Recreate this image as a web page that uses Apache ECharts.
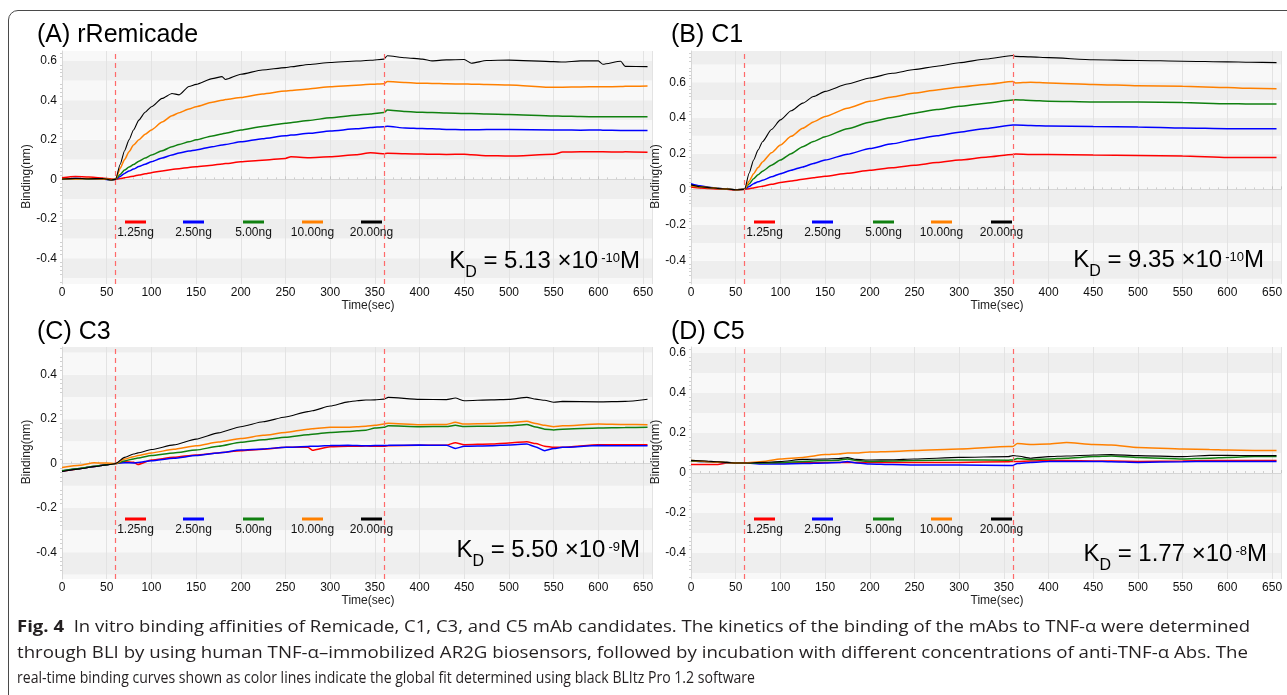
<!DOCTYPE html>
<html>
<head>
<meta charset="utf-8">
<title>BLI binding curves</title>
<script src="https://cdn.jsdelivr.net/npm/echarts@6/dist/echarts.min.js"></script>
<style>
  html, body { margin: 0; padding: 0; background: #fff; }
  #frame { position: absolute; left: 8px; top: 10px; width: 1300px; height: 700px;
           border: 1.5px solid #4a4a4a; border-radius: 10px; box-sizing: border-box; }
  #main { position: absolute; left: 0; top: 0; width: 1287px; height: 695px; }
  .kd { position: absolute; font-family: "Liberation Sans", Arial, sans-serif; font-size: 24px;
        line-height: 30px; color: #000; white-space: nowrap; }
  .kd sub { font-size: 16px; vertical-align: -9px; line-height: 0; }
  .kd sup { font-size: 13px; vertical-align: 6px; line-height: 0; margin-left: 3px; }
  #caption { position: absolute; left: 17px; top: 613px; color: #231f20;
             font-family: "Open Sans", "Noto Sans", sans-serif; font-size: 16.5px; line-height: 25.5px; }
  #caption .cl { white-space: nowrap; transform-origin: 0 50%; }
  #caption span { display: inline-block; white-space: nowrap; }
</style>
</head>
<body>
<div id="frame"></div>
<div id="main"></div>
<div id="kdbox"></div>
<div id="caption">
  <div class="cl"><span><b>Fig. 4</b>&nbsp; In vitro binding affinities of Remicade, C1, C3, and C5 mAb candidates. The kinetics of the binding of the mAbs to TNF-α were determined</span></div>
  <div class="cl"><span>through BLI by using human TNF-α–immobilized AR2G biosensors, followed by incubation with different concentrations of anti-TNF-α Abs. The</span></div>
  <div class="cl"><span>real-time binding curves shown as color lines indicate the global fit determined using black BLItz Pro 1.2 software</span></div>
</div>
<script>
// concentrations (legend), same for every panel
var concLabels = ['1.25ng', '2.50ng', '5.00ng', '10.00ng', '20.00ng'];
var panelTitles = ['(A) rRemicade', '(B) C1', '(C) C3', '(D) C5'];
var kdMantissa = ['5.13', '9.35', '5.50', '1.77'];
var kdExponent = ['-10', '-10', '-9', '-8'];
var phaseMarks = [60, 360]; // association start / dissociation start (sec)

// (A) rRemicade
var timeA = [0, 15, 30, 45, 55, 60, 65, 70, 75, 80, 86, 93, 100, 112, 123, 131, 142, 150, 168, 179,
  183, 200, 224, 250, 256, 276, 300, 329, 345, 360, 364, 384, 403, 414, 430, 450, 458, 475, 500, 550,
  560, 580, 600, 605, 625, 630, 655];
var aRed = [0.008, 0.014, 0.012, 0.007, 0.002, 0, 0.004, 0.008, 0.012, 0.016, 0.022, 0.028, 0.034, 0.042, 0.05,
  0.054, 0.06, 0.064, 0.072, 0.078, 0.08, 0.089, 0.097, 0.106, 0.115, 0.11, 0.115, 0.125, 0.135, 0.13,
  0.132, 0.13, 0.128, 0.127, 0.126, 0.127, 0.125, 0.12, 0.118, 0.127, 0.138, 0.14, 0.14, 0.14, 0.138, 0.14, 0.137];
var aBlue = [0.0, 0.004, 0.002, 0.002, -0.003, 0, 0.015, 0.03, 0.042, 0.052, 0.065, 0.077, 0.089, 0.108, 0.123,
  0.133, 0.143, 0.149, 0.165, 0.174, 0.177, 0.19, 0.206, 0.221, 0.224, 0.233, 0.245, 0.256, 0.262, 0.267,
  0.269, 0.26, 0.257, 0.256, 0.253, 0.251, 0.251, 0.252, 0.253, 0.25, 0.25, 0.249, 0.25, 0.249, 0.248, 0.248, 0.248];
var aGreen = [0.002, 0.003, 0.002, 0.003, -0.002, 0, 0.025, 0.047, 0.062, 0.075, 0.092, 0.108, 0.123, 0.145, 0.165,
  0.177, 0.19, 0.2, 0.22, 0.23, 0.234, 0.25, 0.268, 0.284, 0.287, 0.298, 0.312, 0.325, 0.331, 0.338,
  0.351, 0.343, 0.34, 0.338, 0.336, 0.334, 0.333, 0.331, 0.329, 0.321, 0.32, 0.318, 0.317, 0.317, 0.317, 0.317, 0.317];
var aOrange = [0.003, 0.002, 0.004, 0.002, -0.002, 0, 0.055, 0.1, 0.14, 0.174, 0.2, 0.228, 0.25, 0.29, 0.322,
  0.337, 0.356, 0.368, 0.39, 0.4, 0.404, 0.414, 0.432, 0.447, 0.45, 0.458, 0.469, 0.477, 0.481, 0.484,
  0.495, 0.49, 0.487, 0.486, 0.484, 0.483, 0.482, 0.48, 0.478, 0.466, 0.467, 0.468, 0.469, 0.469, 0.47, 0.471, 0.473];
var aBlack = [0.002, 0.005, 0.003, 0.004, -0.003, 0, 0.075, 0.145, 0.2, 0.25, 0.3, 0.34, 0.368, 0.41, 0.435,
  0.428, 0.47, 0.481, 0.51, 0.52, 0.506, 0.532, 0.554, 0.566, 0.57, 0.582, 0.592, 0.599, 0.603, 0.609,
  0.626, 0.616, 0.609, 0.6, 0.605, 0.607, 0.588, 0.602, 0.604, 0.596, 0.594, 0.6, 0.6, 0.583, 0.598, 0.572, 0.571];

// (B) C1
var timeB = [0, 10, 20, 30, 40, 50, 60, 65, 70, 75, 80, 90, 100, 112, 125, 137, 150, 175, 200, 225,
  250, 275, 300, 330, 360, 363, 380, 400, 450, 500, 550, 600, 625, 655];
var bRed = [0.013, 0.008, 0.005, 0.002, 0.0, -0.003, 0, 0.004, 0.008, 0.013, 0.018, 0.028, 0.038, 0.047, 0.056,
  0.065, 0.073, 0.09, 0.107, 0.121, 0.135, 0.15, 0.164, 0.18, 0.196, 0.198, 0.196, 0.195, 0.192, 0.19,
  0.187, 0.178, 0.178, 0.178];
var bBlue = [0.032, 0.02, 0.012, 0.006, 0.002, -0.002, 0, 0.016, 0.032, 0.042, 0.051, 0.07, 0.088, 0.107, 0.126,
  0.145, 0.164, 0.197, 0.229, 0.255, 0.28, 0.3, 0.32, 0.341, 0.361, 0.36, 0.358, 0.355, 0.352, 0.35,
  0.344, 0.34, 0.34, 0.34];
var bGreen = [0.02, 0.014, 0.01, 0.005, 0.002, -0.002, 0, 0.03, 0.06, 0.082, 0.102, 0.135, 0.164, 0.2, 0.239,
  0.268, 0.295, 0.34, 0.376, 0.403, 0.427, 0.447, 0.465, 0.483, 0.5, 0.502, 0.498, 0.494, 0.489, 0.489,
  0.486, 0.48, 0.478, 0.478];
var bOrange = [0.02, 0.014, 0.01, 0.005, 0.002, -0.002, 0, 0.045, 0.088, 0.122, 0.154, 0.205, 0.248, 0.297, 0.342,
  0.378, 0.408, 0.455, 0.493, 0.518, 0.54, 0.557, 0.572, 0.588, 0.604, 0.596, 0.6, 0.596, 0.588, 0.58,
  0.577, 0.57, 0.566, 0.564];
var bBlack = [0.025, 0.015, 0.01, 0.005, 0.002, -0.002, 0, 0.09, 0.164, 0.22, 0.267, 0.335, 0.389, 0.44, 0.483,
  0.52, 0.549, 0.59, 0.624, 0.65, 0.671, 0.69, 0.709, 0.73, 0.75, 0.745, 0.742, 0.738, 0.726, 0.722,
  0.718, 0.714, 0.712, 0.71];

// (C) C3
var timeC = [0, 20, 36, 50, 60, 70, 80, 85, 100, 125, 150, 175, 200, 225, 250, 275, 280, 300, 320, 330,
  340, 350, 360, 365, 400, 430, 440, 450, 480, 500, 520, 530, 540, 550, 560, 600, 630, 655];
var cRed = [-0.035, -0.023, -0.013, -0.005, 0, 0.008, 0.006, -0.004, 0.016, 0.028, 0.039, 0.048, 0.058, 0.064, 0.073,
  0.074, 0.06, 0.076, 0.078, 0.078, 0.079, 0.078, 0.078, 0.08, 0.082, 0.083, 0.094, 0.085, 0.088, 0.093,
  0.098, 0.09, 0.078, 0.073, 0.074, 0.085, 0.085, 0.085];
var cBlue = [-0.034, -0.022, -0.013, -0.005, 0, 0.004, 0.003, 0.005, 0.013, 0.024, 0.036, 0.048, 0.061, 0.066, 0.073,
  0.077, 0.078, 0.081, 0.082, 0.081, 0.08, 0.081, 0.081, 0.082, 0.084, 0.082, 0.068, 0.078, 0.08, 0.084,
  0.088, 0.075, 0.058, 0.068, 0.073, 0.081, 0.08, 0.08];
var cGreen = [-0.032, -0.022, -0.012, -0.005, 0, 0.012, 0.021, 0.025, 0.036, 0.048, 0.061, 0.078, 0.096, 0.107, 0.118,
  0.13, 0.132, 0.14, 0.144, 0.148, 0.15, 0.16, 0.163, 0.17, 0.166, 0.167, 0.172, 0.167, 0.168, 0.17,
  0.176, 0.165, 0.155, 0.151, 0.155, 0.16, 0.162, 0.163];
var cOrange = [-0.018, -0.008, 0.004, 0.002, 0, 0.02, 0.031, 0.036, 0.048, 0.064, 0.08, 0.097, 0.113, 0.127, 0.14,
  0.155, 0.157, 0.163, 0.163, 0.166, 0.168, 0.172, 0.178, 0.182, 0.175, 0.176, 0.186, 0.178, 0.18, 0.185,
  0.19, 0.18, 0.172, 0.166, 0.17, 0.178, 0.176, 0.175];
var cBlack = [-0.036, -0.024, -0.014, -0.006, 0, 0.028, 0.043, 0.048, 0.063, 0.084, 0.11, 0.138, 0.166, 0.188, 0.21,
  0.234, 0.238, 0.259, 0.278, 0.283, 0.286, 0.287, 0.29, 0.298, 0.289, 0.288, 0.295, 0.283, 0.287, 0.289,
  0.298, 0.29, 0.285, 0.276, 0.28, 0.278, 0.28, 0.29];

// (D) C5
var timeD = [0, 15, 30, 40, 50, 60, 80, 100, 125, 150, 165, 175, 185, 200, 225, 250, 300, 355, 360, 365,
  380, 400, 420, 450, 470, 500, 550, 580, 600, 630, 655];
var dRed = [0.042, 0.042, 0.042, 0.05, 0.05, 0.05, 0.05, 0.05, 0.051, 0.052, 0.052, 0.053, 0.053, 0.053, 0.053,
  0.053, 0.053, 0.056, 0.058, 0.058, 0.06, 0.062, 0.062, 0.06, 0.06, 0.058, 0.06, 0.062, 0.062, 0.062, 0.062];
var dBlue = [0.06, 0.057, 0.054, 0.052, 0.05, 0.05, 0.045, 0.045, 0.047, 0.05, 0.052, 0.058, 0.05, 0.045, 0.042,
  0.04, 0.04, 0.037, 0.038, 0.048, 0.053, 0.057, 0.058, 0.058, 0.056, 0.053, 0.056, 0.058, 0.058, 0.057, 0.057];
var dGreen = [0.06, 0.058, 0.055, 0.052, 0.05, 0.05, 0.05, 0.053, 0.058, 0.062, 0.064, 0.07, 0.062, 0.058, 0.06,
  0.062, 0.065, 0.064, 0.065, 0.072, 0.068, 0.07, 0.074, 0.082, 0.085, 0.078, 0.07, 0.074, 0.078, 0.082, 0.083];
var dOrange = [0.062, 0.058, 0.055, 0.052, 0.05, 0.05, 0.058, 0.07, 0.078, 0.092, 0.095, 0.1, 0.1, 0.105, 0.108,
  0.112, 0.12, 0.132, 0.133, 0.147, 0.143, 0.145, 0.152, 0.142, 0.14, 0.128, 0.12, 0.118, 0.115, 0.113, 0.112];
var dBlack = [0.063, 0.06, 0.056, 0.053, 0.05, 0.05, 0.053, 0.057, 0.068, 0.07, 0.072, 0.077, 0.068, 0.065, 0.066,
  0.07, 0.078, 0.082, 0.087, 0.085, 0.074, 0.082, 0.085, 0.09, 0.092, 0.087, 0.082, 0.088, 0.088, 0.087, 0.087];

// y extents of each panel (nm)
var yMins = [-0.53, -0.53, -0.52, -0.53];
var yMaxs = [0.65, 0.775, 0.525, 0.63];

var panelTimes = [timeA, timeB, timeC, timeD];
var panelValues = [
  [aRed, aBlue, aGreen, aOrange, aBlack],
  [bRed, bBlue, bGreen, bOrange, bBlack],
  [cRed, cBlue, cGreen, cOrange, cBlack],
  [dRed, dBlue, dGreen, dOrange, dBlack]
];

// ---- layout / style ----
var colors = ['#ff0000', '#0000ff', '#108010', '#ff8000', '#000000'];
var grids = [
  {left: 62, top: 51, width: 590, height: 233},
  {left: 691, top: 51, width: 590, height: 233},
  {left: 62, top: 347, width: 590, height: 232},
  {left: 691, top: 347, width: 590, height: 232}
];
var titlePos = [[37, 35], [671, 35], [37, 332], [671, 332]];
var kdPos = [[640, 259.5], [1264, 258], [640, 548.5], [1267, 552.5]]; // right edge, K centre
var legendXs = [[125, 183, 243, 302, 361], [754, 812, 873, 931, 991],
                [125, 183, 243, 302, 361], [754, 812, 873, 931, 991]];
var legendY = [222, 222, 519, 519];
var yNameGap = [26, 21, 26, 21];
var yNamePad = [[0, 18, 0, 0], [0, 18, 0, 0], [0, 0, 0, 22], [0, 0, 0, 22]];
var FONT = '"Liberation Sans", Arial, sans-serif';

function yLabel(v) {
  var r = Math.round(v * 10);
  if (Math.abs(v * 10 - r) > 1e-6 || r % 2 !== 0) return '';
  return r === 0 ? '0' : (r / 10).toFixed(1);
}

var xAxes = [], yAxes = [], series = [], graphics = [];
for (var g = 0; g < 4; g++) {
  xAxes.push({
    type: 'value', gridIndex: g, min: 0, max: 660, interval: 50,
    name: 'Time(sec)', nameLocation: 'middle', nameGap: 13,
    nameTextStyle: {fontFamily: FONT, fontSize: 12, color: '#222', padding: [0, 0, 0, 22]},
    axisLine: {show: true, lineStyle: {color: '#d6d6d6'}},
    axisTick: {show: true, inside: true, length: 3, lineStyle: {color: '#c4c4c4'}},
    minorTick: {show: true, splitNumber: 5, length: 2, lineStyle: {color: '#cfcfcf'}},
    axisLabel: {fontFamily: FONT, fontSize: 12, color: '#111', margin: 3, showMaxLabel: false},
    splitLine: {show: true, lineStyle: {color: '#e3e3e3', width: 1}}
  });
  yAxes.push({
    type: 'value', gridIndex: g, min: yMins[g], max: yMaxs[g], splitNumber: 12,
    name: 'Binding(nm)', nameLocation: 'middle', nameGap: yNameGap[g],
    nameTextStyle: {fontFamily: FONT, fontSize: 12, color: '#222', padding: yNamePad[g]},
    axisLine: {show: true, lineStyle: {color: '#d6d6d6'}},
    axisTick: {show: false},
    minorTick: {show: true, splitNumber: 5, length: 2, lineStyle: {color: '#d0d0d0'}},
    axisLabel: {fontFamily: FONT, fontSize: 12, color: '#111', margin: 5, formatter: yLabel},
    splitLine: {show: false},
    splitArea: {show: true, areaStyle: {color: ['#f8f8f8', '#eeeeee']}}
  });

  var time = panelTimes[g];
  panelValues[g].forEach(function (vals, k) {
    var s = {
      type: 'line', name: concLabels[k], xAxisIndex: g, yAxisIndex: g,
      data: time.map(function (t, i) { return [t, vals[i]]; }),
      showSymbol: false, symbol: 'none', silent: true,
      smooth: 0.2, smoothMonotone: 'x',
      lineStyle: {color: colors[k], width: k === 4 ? 1.1 : 1.5},
      itemStyle: {color: colors[k]}
    };
    if (k === 0) {
      s.markLine = {
        silent: true, symbol: ['none', 'none'], label: {show: false},
        lineStyle: {color: '#ff6a6a', type: [5, 4], width: 1.2},
        data: phaseMarks.map(function (m) { return {xAxis: m}; })
      };
    }
    series.push(s);
  });

  // panel title
  graphics.push({
    type: 'text', x: titlePos[g][0], y: titlePos[g][1],
    style: {text: panelTitles[g], font: '25px ' + FONT, fill: '#000', verticalAlign: 'middle'}
  });
  // legend: short coloured bar with the label under it
  for (var k = 0; k < 5; k++) {
    graphics.push({
      type: 'rect', z: 10,
      shape: {x: legendXs[g][k], y: legendY[g] - 1.5, width: 21, height: 3},
      style: {fill: colors[k]}
    });
    graphics.push({
      type: 'text', z: 10, x: legendXs[g][k] + 10.5, y: legendY[g] + 11,
      style: {text: concLabels[k], font: '12px ' + FONT, fill: '#111', align: 'center', verticalAlign: 'middle'}
    });
  }
}

var chart = echarts.init(document.getElementById('main'), null, {renderer: 'canvas'});
chart.setOption({
  animation: false,
  backgroundColor: 'transparent',
  grid: grids,
  xAxis: xAxes,
  yAxis: yAxes,
  series: series,
  graphic: graphics
});

// K_D annotations (sub/superscripts as html text)
var kdBox = document.getElementById('kdbox');
for (var g = 0; g < 4; g++) {
  var d = document.createElement('div');
  d.className = 'kd';
  d.innerHTML = 'K<sub>D</sub> = ' + kdMantissa[g] + ' ×10<sup>' + kdExponent[g] + '</sup>M';
  d.style.right = (1287 - kdPos[g][0]) + 'px';
  d.style.top = (kdPos[g][1] - 14.5) + 'px';
  kdBox.appendChild(d);
}

// caption: each printed line fitted to its width in the figure
var captionWidths = [1233, 1231, 738];
var lines = document.querySelectorAll('#caption .cl');
for (var i = 0; i < lines.length; i++) {
  var w = lines[i].firstElementChild.getBoundingClientRect().width;
  lines[i].style.transform = 'scaleX(' + (captionWidths[i] / w) + ')';
}
</script>
</body>
</html>
